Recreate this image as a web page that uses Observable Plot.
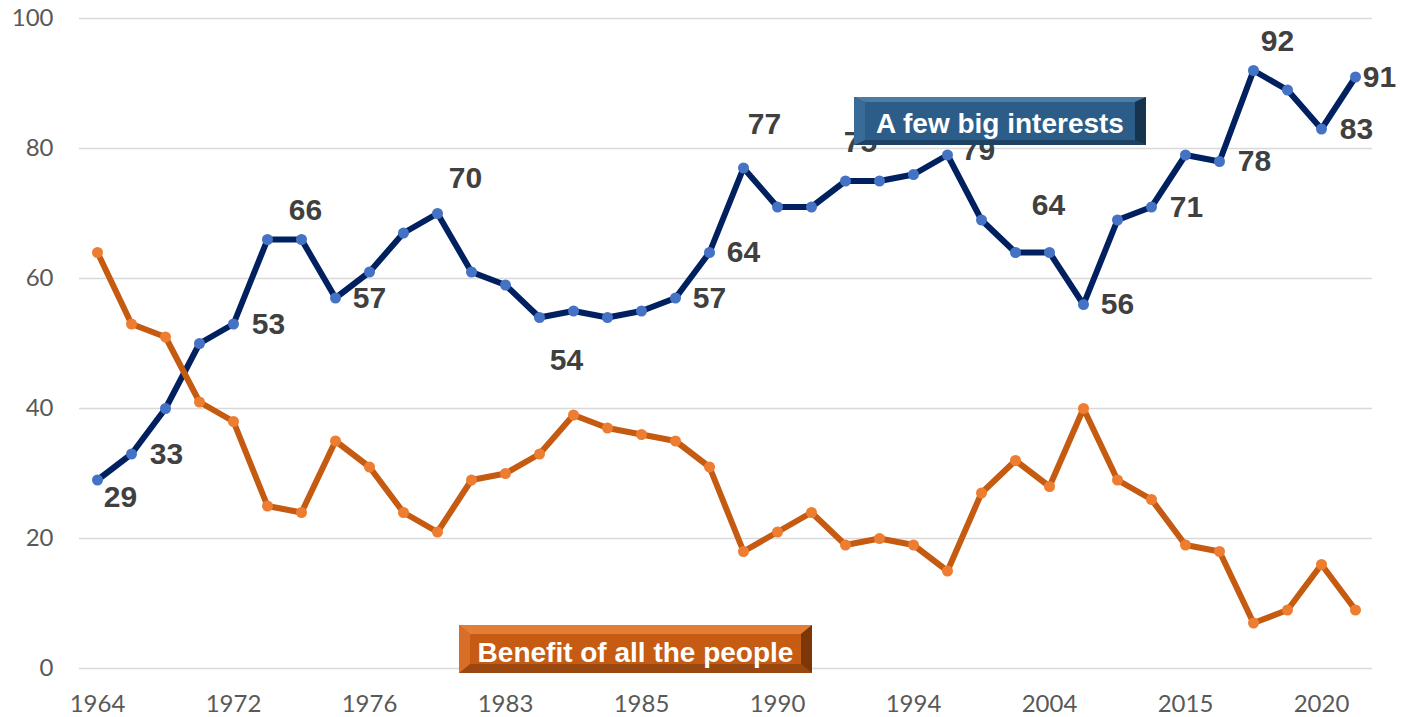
<!DOCTYPE html>
<html><head><meta charset="utf-8">
<script src="https://cdn.jsdelivr.net/npm/d3@7"></script>
<script src="https://cdn.jsdelivr.net/npm/@observablehq/plot@0.6"></script>
<style>body{margin:0;background:#fff;overflow:hidden}</style>
</head><body><div id="chart"></div>
<script>
// ---- data ----
const tickLabels = ["1964","1972","1976","1983","1985","1990","1994","2004","2015","2020"];
const fewBigInterests = [29,33,40,50,53,66,66,57,61,67,70,61,59,54,55,54,55,57,64,77,71,71,75,75,76,79,69,64,64,56,69,71,79,78,92,89,83,91];
const benefitAll = [64,53,51,41,38,25,24,35,31,24,21,29,30,33,39,37,36,35,31,18,21,24,19,20,19,15,27,32,28,40,29,26,19,18,7,9,16,9];
const seriesNames = ["A few big interests","Benefit of all the people"];
const labeledPoints = [0,1,4,6,7,10,13,17,18,19,22,25,28,29,31,33,34,36,37];

// ---- layout (annotation offsets, px) ----
const labelOffset = {0:[23,17],1:[35,0],4:[35,0],6:[4,-29],7:[34,0],10:[28,-35],13:[27,43],17:[34,0],18:[34,0],19:[21,-44],22:[15,-39],25:[31,-5],28:[-1,-47],29:[34,0],31:[35,0],33:[35,0],34:[24,-29],36:[35,0],37:[24,0]};

const n = fewBigInterests.length;
const idx = d3.range(n);
const blue = idx.map(i => ({i, v: fewBigInterests[i]}));
const orange = idx.map(i => ({i, v: benefitAll[i]}));

const labelMarks = labeledPoints.map(i => Plot.text([i], {
  x: d => d, y: d => fewBigInterests[d], text: d => String(fewBigInterests[d]),
  dx: labelOffset[i][0], dy: labelOffset[i][1],
  fontFamily: "Liberation Sans, Arial, sans-serif", fontWeight: "bold", fontSize: 30,
  fill: "#404040", textAnchor: "middle"
}));

const chart = Plot.plot({
  width: 1404, height: 717,
  marginLeft: 79, marginRight: 32, marginTop: 18, marginBottom: 49,
  style: {fontFamily: "Lato, 'Open Sans', sans-serif", background: "#fff", overflow: "visible"},
  x: {type: "point", domain: idx, padding: 0.5, label: null},
  y: {domain: [0, 100], label: null},
  marks: [
    Plot.gridY([0,20,40,60,80,100], {stroke: "#d9d9d9", strokeOpacity: 1, strokeWidth: 1.5}),
    Plot.axisY([0,20,40,60,80,100], {tickSize: 0, tickPadding: 26, fontSize: 24, color: "#595959", label: null}),
    Plot.axisX(d3.range(0, n, 4), {tickSize: 0, tickPadding: 26, fontSize: 24, color: "#595959", label: null,
      tickFormat: i => tickLabels[i / 4]}),
    Plot.line(blue, {x: "i", y: "v", stroke: "#002060", strokeWidth: 6, strokeLinejoin: "round"}),
    Plot.dot(blue, {x: "i", y: "v", r: 5.5, fill: "#4472c4", stroke: "none"}),
    Plot.line(orange, {x: "i", y: "v", stroke: "#c55a11", strokeWidth: 6, strokeLinejoin: "round"}),
    Plot.dot(orange, {x: "i", y: "v", r: 5.5, fill: "#ed7d31", stroke: "none"}),
    ...labelMarks
  ]
});
document.getElementById("chart").appendChild(chart);

// ---- beveled series-name boxes ----
const svg = d3.select(chart);
function bevelBox(x0, y0, x1, y1, bx, by, c, label, baseline) {
  const g = svg.append("g");
  const poly = (pts, fill) => g.append("polygon").attr("points", pts.map(p => p.join(",")).join(" ")).attr("fill", fill);
  g.append("rect").attr("x", x0).attr("y", y0).attr("width", x1 - x0).attr("height", y1 - y0).attr("fill", c.edge);
  poly([[x0,y0],[x1,y0],[x1-bx,y0+by],[x0+bx,y0+by]], c.top);
  poly([[x0,y1],[x1,y1],[x1-bx,y1-by],[x0+bx,y1-by]], c.bottom);
  poly([[x0,y0],[x0+bx,y0+by],[x0+bx,y1-by],[x0,y1]], c.left);
  poly([[x1,y0],[x1-bx,y0+by],[x1-bx,y1-by],[x1,y1]], c.right);
  g.append("rect").attr("x", x0+bx).attr("y", y0+by).attr("width", x1-x0-2*bx).attr("height", y1-y0-2*by).attr("fill", c.face);
  g.append("text").attr("x", (x0+x1)/2).attr("y", baseline).attr("text-anchor", "middle")
    .attr("font-family", "Liberation Sans, Arial, sans-serif").attr("font-weight", "bold").attr("font-size", 28)
    .attr("fill", "#fff").text(label);
}
bevelBox(854, 97, 1146, 145, 11, 5,
  {edge: "#2a5680", face: "#2c5d89", top: "#4a7ca8", bottom: "#1d4263", left: "#386b97", right: "#17344f"},
  seriesNames[0], 133);
bevelBox(459, 625, 812, 673, 11, 9,
  {edge: "#c55a11", face: "#c65b13", top: "#e47d36", bottom: "#9a4710", left: "#d86e27", right: "#7c3608"},
  seriesNames[1], 662);
</script>
</body></html>
